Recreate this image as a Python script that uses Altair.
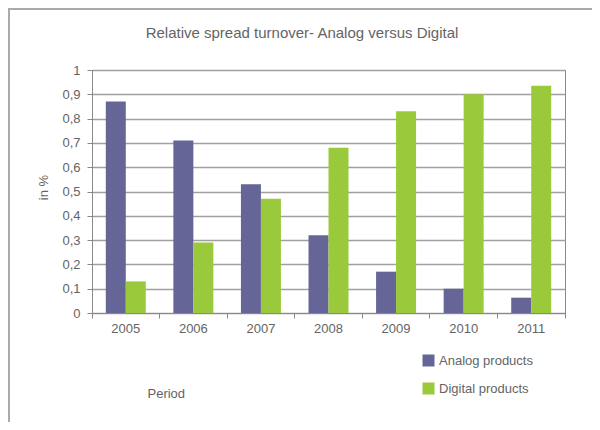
import altair as alt
import pandas as pd

title_text = "Relative spread turnover- Analog versus Digital"
years = ["2005", "2006", "2007", "2008", "2009", "2010", "2011"]
analog = [0.87, 0.71, 0.53, 0.32, 0.17, 0.10, 0.063]
digital = [0.13, 0.29, 0.47, 0.68, 0.83, 0.90, 0.935]
series = ["Analog products", "Digital products"]
colors = ["#656598", "#9ac93b"]
y_ticks = [round(i * 0.1, 1) for i in range(11)]

rows = []
for i, yr in enumerate(years):
    rows.append({"Period": yr, "Series": series[0], "Value": analog[i]})
    rows.append({"Period": yr, "Series": series[1], "Value": digital[i]})
df = pd.DataFrame(rows)

text_color = "#646464"
font = "Liberation Sans"

bars = alt.Chart(df).mark_bar().encode(
    x=alt.X(
        "Period:N",
        sort=years,
        scale=alt.Scale(paddingInner=0, paddingOuter=0),
        axis=alt.Axis(
            title="Period",
            labelAngle=0,
            bandPosition=1,
            tickExtra=True,
            tickSize=5,
            labelPadding=4,
            titleX=55,
            titleY=80,
            titleAlign="left",
            titleAnchor="start",
            titleBaseline="middle",
        ),
    ),
    xOffset=alt.XOffset(
        "Series:N", sort=series,
        scale=alt.Scale(paddingInner=0, paddingOuter=0.69),
    ),
    y=alt.Y(
        "Value:Q",
        scale=alt.Scale(domain=[0, 1], nice=False),
        axis=alt.Axis(
            title="in %",
            values=y_ticks,
            labelExpr="replace(format(datum.value, '.1~f'), '.', ',')",
            tickSize=5,
            labelPadding=7,
            grid=True,
            titleX=-49,
            titleY=117,
            titleAngle=-90,
            titleAlign="center",
            titleBaseline="middle",
        ),
    ),
    color=alt.Color(
        "Series:N",
        sort=series,
        scale=alt.Scale(domain=series, range=colors),
        legend=alt.Legend(
            title=None,
            orient="none",
            legendX=330,
            legendY=284,
            symbolType="square",
            symbolSize=144,
            symbolStrokeWidth=0,
            labelFontSize=13,
            labelOffset=4,
            rowPadding=14,
            labelColor=text_color,
            labelFont=font,
        ),
    ),
)

title_df = pd.DataFrame({"t": [title_text]})
title_mark = alt.Chart(title_df).mark_text(
    fontSize=15, font=font, color=text_color, align="center", baseline="middle"
).encode(text="t:N", x=alt.value(210), y=alt.value(-37))

border_df = pd.DataFrame({"a": [0]})
top_border = alt.Chart(border_df).mark_rule(color="#aaaaaa", strokeWidth=2).encode(
    x=alt.value(-84), x2=alt.value(500), y=alt.value(-61)
)
left_border = alt.Chart(border_df).mark_rule(color="#aaaaaa", strokeWidth=2).encode(
    x=alt.value(-83), y=alt.value(-62), y2=alt.value(352)
)

chart = alt.layer(bars, title_mark, top_border, left_border).properties(
    width=473,
    height=243,
    padding={"left": 84, "top": 62, "right": 27, "bottom": 109},
    autosize=alt.AutoSizeParams(type="none"),
).configure_view(
    stroke="#888888", strokeWidth=1
).configure_axis(
    labelFont=font,
    titleFont=font,
    labelFontSize=13,
    titleFontSize=13,
    titleFontWeight="normal",
    labelColor=text_color,
    titleColor=text_color,
    domainColor="#888888",
    tickColor="#888888",
    gridColor="#a0a0a0",
    gridWidth=1.3,
)

chart.save("out.html", embed_options={"renderer": "svg", "actions": False})
